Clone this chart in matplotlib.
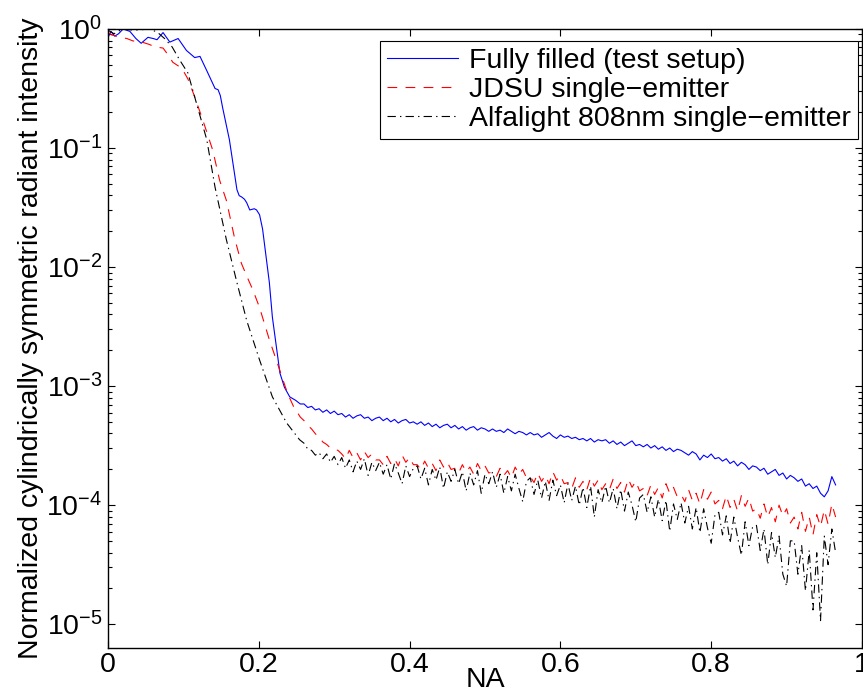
import numpy as np
import matplotlib.pyplot as plt
from matplotlib.ticker import FixedLocator, NullFormatter

plt.rcParams['font.family'] = ['Liberation Sans', 'DejaVu Sans']
plt.rcParams['mathtext.fontset'] = 'custom'
plt.rcParams['mathtext.rm'] = 'Liberation Sans'
plt.rcParams['lines.scale_dashes'] = False

# values are log10 of the normalized intensity
# steep part: irregular NA samples
blue_head_na = [0.000, 0.004, 0.009, 0.014, 0.020, 0.029, 0.037, 0.044, 0.053, 0.060,
                0.065, 0.073, 0.082, 0.093, 0.104, 0.115, 0.122, 0.131, 0.142, 0.146,
                0.149, 0.152, 0.156, 0.161, 0.166, 0.171, 0.174, 0.177, 0.181, 0.184,
                0.188, 0.194, 0.197, 0.201, 0.205, 0.208, 0.211, 0.214, 0.218, 0.224,
                0.228, 0.234, 0.241, 0.249, 0.255]
blue_head_log = [-0.07, -0.02, -0.06, -0.04, 0.00, -0.02, -0.08, -0.12, -0.07, -0.08,
                 -0.09, -0.03, -0.11, -0.08, -0.18, -0.24, -0.23, -0.35, -0.50, -0.51,
                 -0.56, -0.66, -0.78, -0.93, -1.14, -1.35, -1.40, -1.41, -1.43, -1.46,
                 -1.52, -1.51, -1.52, -1.56, -1.68, -1.83, -1.98, -2.13, -2.42, -2.70,
                 -2.89, -3.01, -3.09, -3.12, -3.15]

red_head_na = [0.000, 0.005, 0.016, 0.025, 0.033, 0.045, 0.055, 0.062, 0.073, 0.080,
               0.086, 0.098, 0.106, 0.115, 0.126, 0.139, 0.148, 0.157, 0.168, 0.177,
               0.185, 0.192, 0.201, 0.214, 0.228, 0.238, 0.246, 0.255]
red_head_log = [-0.03, -0.05, -0.07, -0.08, -0.10, -0.11, -0.13, -0.15, -0.16, -0.22,
                -0.28, -0.33, -0.42, -0.57, -0.77, -1.02, -1.27, -1.44, -1.76, -1.97,
                -2.09, -2.19, -2.34, -2.61, -2.87, -3.06, -3.17, -3.26]

black_head_na = [0.000, 0.008, 0.019, 0.035, 0.056, 0.066, 0.075, 0.085, 0.095, 0.106,
                 0.119, 0.131, 0.142, 0.157, 0.171, 0.184, 0.201, 0.218, 0.237, 0.254]
black_head_log = [-0.01, -0.04, 0.00, -0.01, 0.00, -0.03, -0.08, -0.15, -0.26, -0.37,
                  -0.66, -0.93, -1.33, -1.77, -2.13, -2.45, -2.78, -3.09, -3.31, -3.45]

# noisy tail: NA sampled every 0.005 from 0.26 to 0.965
tail_start, tail_stop, tail_step = 0.26, 0.965, 0.005

blue_tail_log = [
    -3.15, -3.18, -3.17, -3.20, -3.19, -3.22, -3.20, -3.23, -3.21, -3.24,
    -3.23, -3.26, -3.24, -3.27, -3.25, -3.24, -3.27, -3.26, -3.29, -3.27,
    -3.26, -3.29, -3.27, -3.30, -3.28, -3.31, -3.29, -3.28, -3.31, -3.30,
    -3.32, -3.30, -3.33, -3.31, -3.34, -3.32, -3.35, -3.33, -3.32, -3.35,
    -3.33, -3.36, -3.34, -3.37, -3.35, -3.34, -3.37, -3.35, -3.36, -3.38,
    -3.36, -3.38, -3.37, -3.39, -3.36, -3.38, -3.40, -3.38, -3.39, -3.41,
    -3.39, -3.41, -3.40, -3.43, -3.41, -3.39, -3.42, -3.44, -3.41, -3.43,
    -3.42, -3.44, -3.43, -3.45, -3.44, -3.46, -3.44, -3.47, -3.45, -3.46,
    -3.45, -3.48, -3.46, -3.49, -3.47, -3.50, -3.48, -3.46, -3.50, -3.49,
    -3.51, -3.49, -3.52, -3.50, -3.53, -3.51, -3.54, -3.52, -3.55, -3.53,
    -3.54, -3.56, -3.58, -3.55, -3.57, -3.62, -3.58, -3.60, -3.57, -3.61,
    -3.60, -3.63, -3.61, -3.65, -3.63, -3.67, -3.64, -3.66, -3.70, -3.67,
    -3.68, -3.71, -3.69, -3.74, -3.72, -3.70, -3.75, -3.73, -3.78, -3.75,
    -3.77, -3.80, -3.78, -3.84, -3.82, -3.86, -3.84, -3.90, -3.93, -3.88,
    -3.76, -3.83]

red_tail_log = [
    -3.29, -3.33, -3.36, -3.40, -3.43, -3.47, -3.49, -3.52, -3.53, -3.54,
    -3.57, -3.61, -3.54, -3.60, -3.56, -3.62, -3.55, -3.60, -3.57, -3.62,
    -3.62, -3.66, -3.59, -3.65, -3.61, -3.67, -3.58, -3.64, -3.60, -3.66,
    -3.66, -3.70, -3.63, -3.69, -3.65, -3.71, -3.62, -3.68, -3.64, -3.70,
    -3.69, -3.73, -3.66, -3.72, -3.68, -3.74, -3.65, -3.71, -3.67, -3.73,
    -3.72, -3.76, -3.69, -3.75, -3.71, -3.77, -3.68, -3.74, -3.70, -3.77,
    -3.76, -3.81, -3.73, -3.80, -3.75, -3.82, -3.72, -3.79, -3.75, -3.82,
    -3.81, -3.86, -3.77, -3.85, -3.80, -3.87, -3.77, -3.84, -3.79, -3.87,
    -3.82, -3.87, -3.78, -3.86, -3.81, -3.89, -3.78, -3.85, -3.80, -3.88,
    -3.86, -3.92, -3.83, -3.91, -3.85, -3.94, -3.82, -3.90, -3.85, -3.93,
    -3.91, -3.97, -3.87, -3.96, -3.90, -3.99, -3.87, -3.95, -3.89, -3.99,
    -3.96, -4.03, -3.92, -4.02, -3.95, -4.05, -3.92, -4.01, -3.94, -4.05,
    -4.03, -4.11, -3.99, -4.10, -4.02, -4.14, -4.00, -4.09, -4.03, -4.15,
    -4.10, -4.20, -4.06, -4.22, -4.10, -4.25, -4.08, -4.18, -4.04, -4.16,
    -3.99, -4.10]

black_tail_log = [
    -3.48, -3.53, -3.54, -3.58, -3.56, -3.61, -3.57, -3.64, -3.59, -3.66,
    -3.60, -3.69, -3.62, -3.72, -3.63, -3.70, -3.61, -3.75, -3.64, -3.71,
    -3.64, -3.74, -3.66, -3.78, -3.65, -3.73, -3.82, -3.67, -3.76, -3.69,
    -3.67, -3.78, -3.69, -3.83, -3.70, -3.79, -3.68, -3.86, -3.72, -3.80,
    -3.70, -3.82, -3.72, -3.88, -3.73, -3.83, -3.71, -3.90, -3.74, -3.82,
    -3.72, -3.85, -3.74, -3.90, -3.76, -3.88, -3.74, -3.86, -3.97, -3.80,
    -3.77, -3.91, -3.79, -3.94, -3.80, -3.96, -3.79, -3.92, -3.83, -3.98,
    -3.82, -3.96, -3.84, -4.00, -3.85, -4.02, -3.84, -4.10, -3.87, -3.98,
    -3.84, -3.98, -3.86, -4.03, -3.87, -4.05, -3.89, -4.00, -4.14, -3.94,
    -3.91, -4.06, -3.93, -4.10, -3.95, -4.13, -3.96, -4.22, -3.99, -4.12,
    -3.98, -4.15, -4.01, -4.20, -4.02, -4.23, -4.03, -4.19, -4.32, -4.08,
    -4.06, -4.25, -4.09, -4.32, -4.10, -4.27, -4.42, -4.14, -4.34, -4.18,
    -4.17, -4.38, -4.20, -4.50, -4.23, -4.44, -4.26, -4.58, -4.68, -4.30,
    -4.30, -4.58, -4.34, -4.72, -4.38, -4.88, -4.40, -4.97, -4.26, -4.50,
    -4.20, -4.40]

labels = ['Fully filled (test setup)',
          'JDSU single\u2212emitter',
          'Alfalight 808nm single\u2212emitter']

na_tail = np.round(np.arange(tail_start, tail_stop + tail_step / 2, tail_step), 3)


def series(head_na, head_log, tail_log):
    x = np.concatenate([head_na, na_tail])
    y = 10.0 ** np.array(head_log + tail_log)
    return x, y


fig = plt.figure(figsize=(8.63, 6.92), dpi=100)
ax = fig.add_axes([108 / 863, 1 - 648 / 692, 754 / 863, 619 / 692])

x, y = series(blue_head_na, blue_head_log, blue_tail_log)
ax.plot(x, y, color='b', lw=0.8, label=labels[0])
x, y = series(red_head_na, red_head_log, red_tail_log)
ax.plot(x, y, color='r', lw=0.8, dashes=(7, 6), label=labels[1])
x, y = series(black_head_na, black_head_log, black_tail_log)
ax.plot(x, y, color='k', lw=0.8, dashes=(6, 3, 1, 3), label=labels[2])

ax.set_yscale('log')
ax.set_xlim(0, 1)
ax.set_ylim(10 ** -5.2, 1)
ax.set_xticks([0, 0.2, 0.4, 0.6, 0.8, 1])
ax.set_xticklabels(['0', '0.2', '0.4', '0.6', '0.8', '1'])
ax.set_yticks([10.0 ** -k for k in range(6)])
ax.yaxis.set_minor_locator(FixedLocator([m * 10.0 ** -k for k in range(1, 6) for m in range(2, 10)]))
ax.yaxis.set_minor_formatter(NullFormatter())
ax.tick_params(which='both', direction='in', top=True, right=True, labelsize=20.5, width=0.8)
ax.tick_params(which='major', length=5)
ax.tick_params(which='minor', length=3)
ax.tick_params(axis='x', pad=3)
ax.tick_params(axis='y', pad=4)
for s in ax.spines.values():
    s.set_linewidth(1.0)

ax.set_xlabel('NA', fontsize=20.5)
ax.xaxis.set_label_coords(0.5, -0.03)
ax.set_ylabel('Normalized cylindrically symmetric radiant intensity', fontsize=20.5, labelpad=2)

leg = ax.legend(loc='upper right', bbox_to_anchor=(0.995, 0.981), fontsize=20.5,
                fancybox=False, edgecolor='k', framealpha=1, handlelength=2.5,
                handletextpad=0.4, borderpad=0.25, labelspacing=0.1, borderaxespad=0)
leg.get_frame().set_linewidth(0.8)

fig.savefig('out.png', dpi=100)
